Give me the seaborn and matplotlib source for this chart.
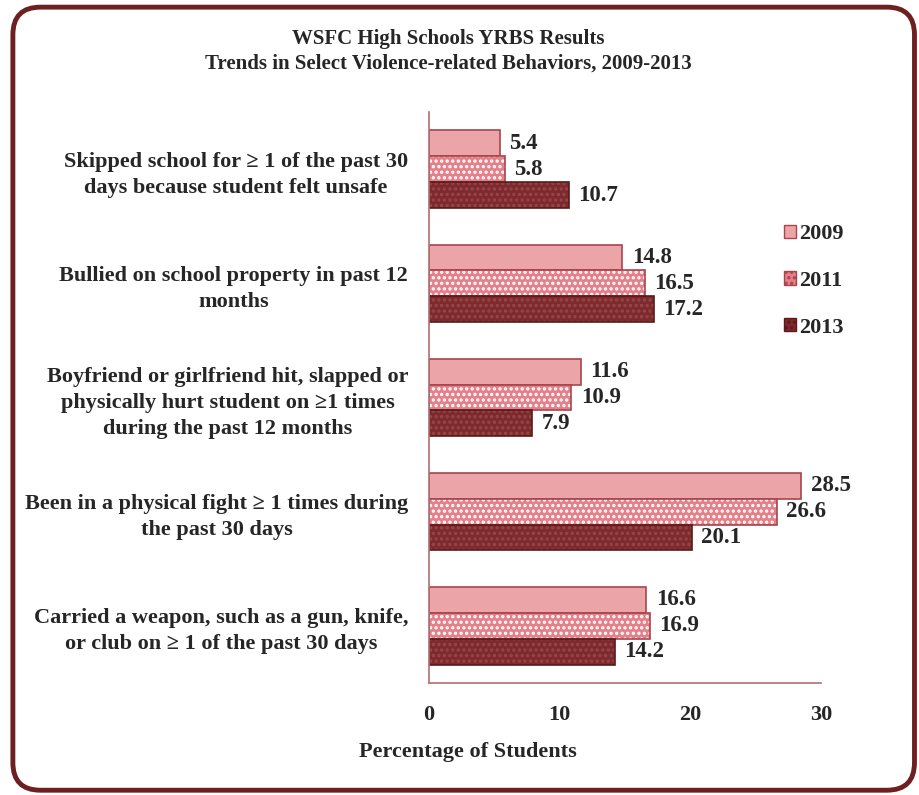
import matplotlib
matplotlib.use("Agg")
import matplotlib.pyplot as plt
import seaborn as sns
import pandas as pd
from matplotlib.patches import FancyBboxPatch, Patch

categories = [
    "Skipped school for \u2265 1 of the past 30\ndays because student felt unsafe",
    "Bullied on school property in past 12\nmonths",
    "Boyfriend or girlfriend hit, slapped or\nphysically hurt student on \u22651 times\nduring the past 12 months",
    "Been in a physical fight \u2265 1 times during\nthe past 30 days",
    "Carried a weapon, such as a gun, knife,\nor club on \u2265 1 of the past 30 days",
]
years = ["2009", "2011", "2013"]
v2009 = [5.4, 14.8, 11.6, 28.5, 16.6]
v2011 = [5.8, 16.5, 10.9, 26.6, 16.9]
v2013 = [10.7, 17.2, 7.9, 20.1, 14.2]
xticks = [0, 10, 20, 30]

rows = []
for yr, vals in zip(years, [v2009, v2011, v2013]):
    for c, v in zip(categories, vals):
        rows.append({"cat": c, "year": yr, "val": v})
df = pd.DataFrame(rows)

sns.set_style("white")
plt.rcParams["font.family"] = ["Liberation Serif", "DejaVu Serif"]
plt.rcParams["font.weight"] = "bold"
plt.rcParams["hatch.linewidth"] = 1.6

fig = plt.figure(figsize=(9.2, 7.95), dpi=100)
ax = fig.add_axes([0.4663, 0.141, 0.4261, 0.718])

fills = {"2009": "#eba4a8", "2011": "#e3808a", "2013": "#7c2a2d"}
edges = {"2009": "#a8444c", "2011": "#a8444c", "2013": "#5a1a1c"}
hatches = {"2009": "", "2011": "...", "2013": "..."}
hatch_cols = {"2009": "#a0404a", "2011": "#ffffff", "2013": "#9a4548"}

sns.barplot(data=df, y="cat", x="val", hue="year", orient="h", ax=ax,
            palette=fills, width=0.68, legend=False, saturation=1)

for container, yr in zip(ax.containers, years):
    for bar in container:
        bar.set_edgecolor(edges[yr])
        bar.set_linewidth(1.2)
        if hatches[yr]:
            bar.set_hatch(hatches[yr])
            bar._hatch_color = matplotlib.colors.to_rgba(hatch_cols[yr])
    ax.bar_label(container, labels=[f"{v:.1f}" for v in container.datavalues],
                 padding=7, fontsize=16.5, fontweight="bold")

ax.set_xlim(0, 30)
ax.set_ylim(4.5, -0.5)
ax.set_xticks(xticks)
ax.set_xticklabels([str(t) for t in xticks], fontsize=16, fontweight="bold")
ax.set_yticks([i for i in range(5)])
ax.set_yticklabels(categories, fontsize=16, fontweight="bold",
                   multialignment="center", linespacing=1.4)
ax.tick_params(axis="y", length=0, pad=15)
ax.tick_params(axis="x", length=7, width=1, color="#b07070", pad=9)
ax.set_ylabel("")
ax.set_xlabel("")

for side in ["top", "right"]:
    ax.spines[side].set_visible(False)
for side in ["left", "bottom"]:
    ax.spines[side].set_color("#b07070")
    ax.spines[side].set_linewidth(1.2)
# category boundary ticks on y axis
ax.set_yticks([i + 0.5 for i in range(-1, 5)], minor=True)
ax.tick_params(axis="y", which="minor", length=7, color="#b07070", direction="out")

fig.text(0.487, 0.951, "WSFC High Schools YRBS Results", ha="center", va="center",
         fontsize=15, fontweight="bold")
fig.text(0.487, 0.920, "Trends in Select Violence-related Behaviors, 2009-2013",
         ha="center", va="center", fontsize=15, fontweight="bold")
fig.text(0.509, 0.054, "Percentage of Students", ha="center", va="center",
         fontsize=16, fontweight="bold")

handles = [Patch(facecolor=fills[y], edgecolor=edges[y], hatch=hatches[y]) for y in years]
leg = fig.legend(handles, years, loc="upper left", bbox_to_anchor=(0.840, 0.732),
                 frameon=False, fontsize=16, labelspacing=1.2, handlelength=0.55,
                 handleheight=0.55, handletextpad=0.12, borderpad=0)

frame = FancyBboxPatch((0.014, 0.006), 0.98, 0.985, boxstyle="round,pad=0,rounding_size=0.03",
                       transform=fig.transFigure, fill=False, edgecolor="#6e2020",
                       linewidth=3.5, mutation_aspect=920/795)
fig.patches.append(frame)

fig.savefig("out.png", dpi=100)
